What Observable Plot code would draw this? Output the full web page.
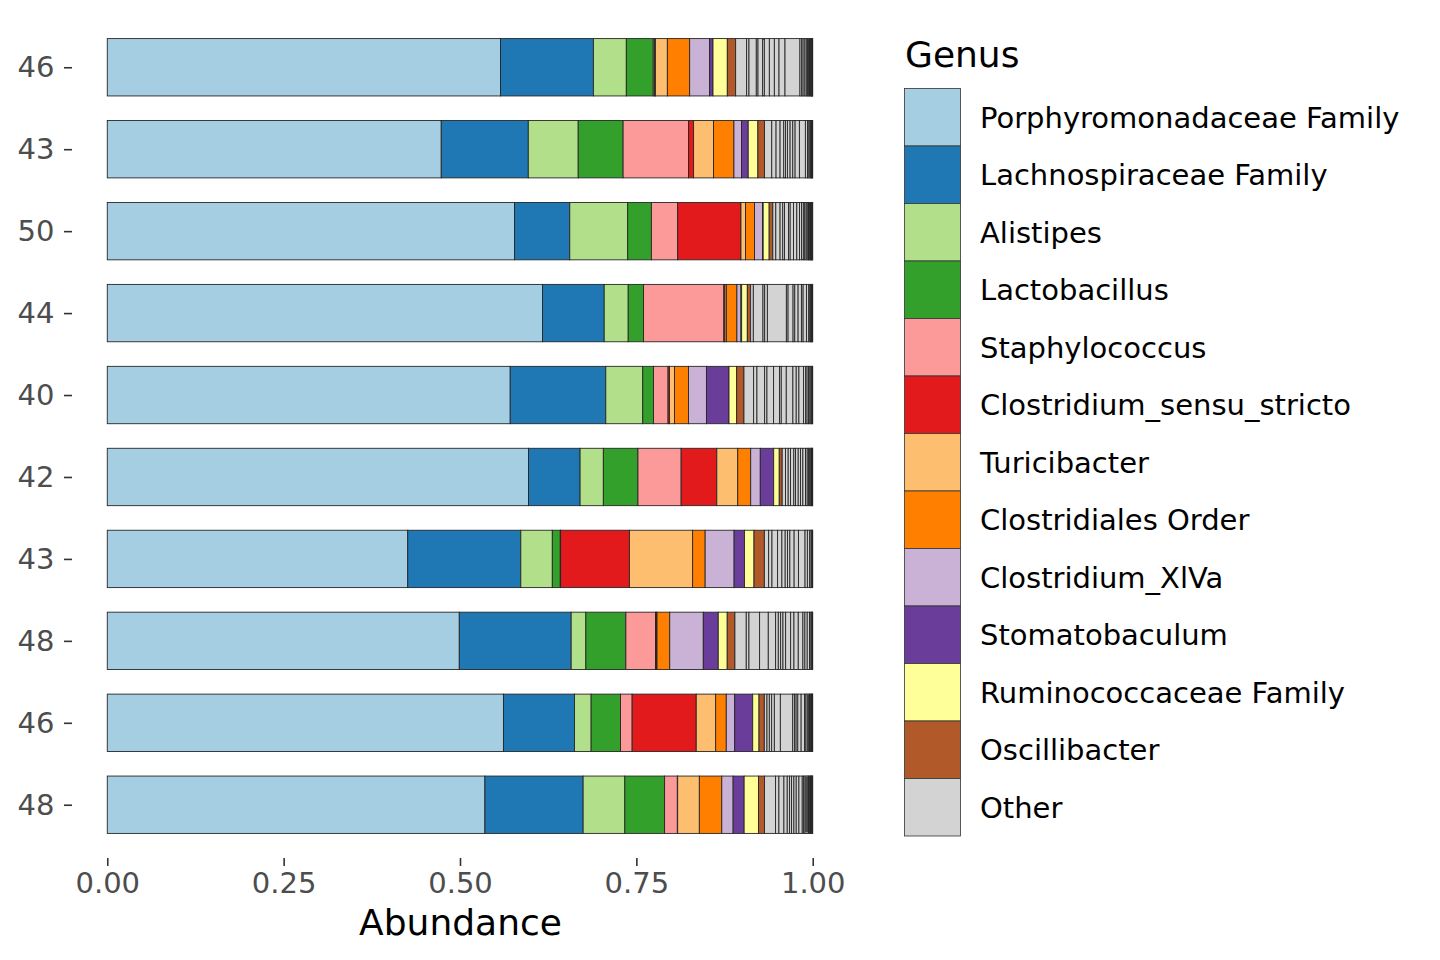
<!DOCTYPE html>
<html><head><meta charset="utf-8">
<script src="https://cdn.jsdelivr.net/npm/d3@7"></script>
<script src="https://cdn.jsdelivr.net/npm/@observablehq/plot@0.6"></script>
<style>
html,body{margin:0;padding:0;background:#fff;}
#wrap{position:relative;width:1440px;height:960px;font-family:"DejaVu Sans",sans-serif;background:#fff;overflow:hidden;}
#chart{position:absolute;left:0;top:0;}
#legend{position:absolute;left:880px;top:0;}
</style></head>
<body><div id="wrap"><div id="chart"></div><svg id="legend" width="560" height="960"></svg></div>
<script>
// ---- data (top bar first) ----
const samples = ["S1","S2","S3","S4","S5","S6","S7","S8","S9","S10"];
const ageLabels = ["46","43","50","44","40","42","43","48","46","48"];

const genera = ["Porphyromonadaceae Family","Lachnospiraceae Family","Alistipes","Lactobacillus",
  "Staphylococcus","Clostridium_sensu_stricto","Turicibacter","Clostridiales Order",
  "Clostridium_XlVa","Stomatobaculum","Ruminococcaceae Family","Oscillibacter"];
const otherLabel = "Other";
const genusColors = ["#A6CEE3","#1F78B4","#B2DF8A","#33A02C","#FB9A99","#E31A1C","#FDBF6F","#FF7F00",
  "#CAB2D6","#6A3D9A","#FFFF99","#B15928"];
const otherColor = "#D3D3D3";

const porphyromonadaceae = [0.5576,0.4738,0.5779,0.6161,0.5713,0.5977,0.4268,0.4990,0.5605,0.5336];
const lachnospiraceae    = [0.1317,0.1235,0.0783,0.0874,0.1355,0.0732,0.1606,0.1586,0.1006,0.1388];
const alistipes          = [0.0467,0.0708,0.0822,0.0340,0.0524,0.0330,0.0448,0.0208,0.0235,0.0589];
const lactobacillus      = [0.0382,0.0637,0.0336,0.0217,0.0152,0.0491,0.0113,0.0567,0.0416,0.0562];
const staphylococcus     = [0.0020,0.0929,0.0373,0.1137,0.0207,0.0613,0.0005,0.0420,0.0164,0.0180];
const clostridiumSS      = [0.0010,0.0071,0.0898,0.0015,0.0020,0.0506,0.0977,0.0012,0.0907,0.0005];
const turicibacter       = [0.0170,0.0283,0.0065,0.0020,0.0071,0.0297,0.0898,0.0010,0.0275,0.0306];
const clostridiales      = [0.0316,0.0289,0.0127,0.0150,0.0198,0.0184,0.0178,0.0180,0.0150,0.0317];
const clostridiumXlVa    = [0.0283,0.0108,0.0113,0.0057,0.0255,0.0136,0.0411,0.0476,0.0119,0.0160];
const stomatobaculum     = [0.0048,0.0095,0.0010,0.0010,0.0320,0.0190,0.0147,0.0212,0.0255,0.0156];
const ruminococcaceae    = [0.0203,0.0137,0.0085,0.0080,0.0109,0.0079,0.0136,0.0127,0.0089,0.0203];
const oscillibacter      = [0.0118,0.0093,0.0052,0.0047,0.0103,0.0042,0.0147,0.0109,0.0075,0.0085];

// many small "Other" taxa per sample
const other1  = [0.0156,0.0033,0.0104,0.0024,0.0066,0.0024,0.0071,0.0071,0.0066,0.0085,0.0212,0.0025,0.002,0.0025,0.002,0.0018,0.0015,0.0012,0.001,0.001,0.0008,0.0006,0.0005,0.0004,0.0003];
const other2  = [0.0104,0.0061,0.0057,0.0052,0.0024,0.0028,0.0038,0.0038,0.0033,0.0061,0.0085,0.003,0.002,0.0015,0.0012,0.001,0.0008,0.0005,0.0004];
const other3  = [0.0042,0.0061,0.0038,0.0024,0.0057,0.0024,0.0047,0.0047,0.0038,0.003,0.0025,0.002,0.002,0.0015,0.0015,0.001,0.001,0.001,0.001,0.0008,0.0006,0.0005,0.0004];
const other4  = [0.0038,0.0137,0.0024,0.0038,0.0269,0.0024,0.0071,0.0024,0.0047,0.0047,0.0024,0.0047,0.0033,0.0015,0.0012,0.001,0.0008,0.0006,0.0005];
const other5  = [0.0137,0.0047,0.0109,0.0033,0.0094,0.0085,0.0024,0.0071,0.0094,0.0047,0.0038,0.0066,0.003,0.002,0.002,0.002,0.0015,0.001,0.001,0.0005];
const other6  = [0.0047,0.0038,0.0033,0.0047,0.0024,0.0038,0.0033,0.0033,0.0038,0.0024,0.002,0.0015,0.0015,0.001,0.0008,0.0006,0.0004];
const other7  = [0.0061,0.0047,0.008,0.0061,0.0047,0.0033,0.0033,0.0061,0.0061,0.0094,0.0033,0.0033,0.002,0.001,0.0008,0.0005];
const other8  = [0.0161,0.0038,0.0151,0.0123,0.0104,0.0038,0.0033,0.0033,0.0038,0.0071,0.0047,0.0061,0.0066,0.0028,0.0033,0.0033,0.002,0.001,0.001,0.0005];
const other9  = [0.0038,0.0033,0.0033,0.0038,0.0085,0.0175,0.0024,0.0024,0.0024,0.0047,0.0047,0.002,0.002,0.0015,0.0015,0.001,0.001,0.001,0.0008,0.0005,0.0004];
const other10 = [0.0156,0.0047,0.0071,0.0047,0.0033,0.0028,0.0033,0.0033,0.0038,0.0047,0.002,0.002,0.0015,0.0015,0.0015,0.001,0.001,0.001,0.001,0.0008,0.0006,0.0005,0.0004];

const xTicks = [0, 0.25, 0.5, 0.75, 1];

// ---- build table ----
const genusSeries = [porphyromonadaceae,lachnospiraceae,alistipes,lactobacillus,staphylococcus,clostridiumSS,
  turicibacter,clostridiales,clostridiumXlVa,stomatobaculum,ruminococcaceae,oscillibacter];
const otherSeries = [other1,other2,other3,other4,other5,other6,other7,other8,other9,other10];
const rows = [];
samples.forEach((s, i) => {
  genera.forEach((g, j) => rows.push({sample: s, genus: g, value: genusSeries[j][i]}));
  otherSeries[i].forEach(v => rows.push({sample: s, genus: otherLabel, value: v}));
});
const labelOf = new Map(samples.map((s, i) => [s, ageLabels[i]]));

const chart = Plot.plot({
  width: 880, height: 960,
  marginLeft: 72, marginRight: 32, marginTop: 14, marginBottom: 102,
  style: {fontFamily: "DejaVu Sans", fontSize: "29px", background: "white", color: "#4d4d4d"},
  x: {domain: [-0.05, 1.05]},
  y: {domain: samples, padding: 0.3, round: false},
  color: {domain: [...genera, otherLabel], range: [...genusColors, otherColor]},
  marks: [
    Plot.barX(rows, Plot.stackX({x: "value", y: "sample", fill: "genus", offset: "normalize",
      stroke: "#262626", strokeWidth: 0.9})),
    Plot.axisY({tickSize: 8, tickPadding: 10, tickFormat: d => labelOf.get(d), label: null,
      fill: "#4d4d4d", stroke: "#333333", strokeWidth: 1.6, fontSize: 29}),
    Plot.axisX({ticks: xTicks, tickSize: 8, tickPadding: 6, tickFormat: d3.format(".2f"), label: null,
      fill: "#4d4d4d", stroke: "#333333", strokeWidth: 1.6, fontSize: 29}),
    Plot.text(["Abundance"], {frameAnchor: "bottom", dy: 65, text: d => d, fontSize: 36, fill: "black", lineAnchor: "middle"})
  ]
});
document.getElementById("chart").appendChild(chart);

// ---- legend ----
const lg = d3.select("#legend");
lg.append("text").attr("x", 25).attr("y", 67).attr("font-family", "DejaVu Sans").attr("font-size", 36)
  .attr("fill", "black").text("Genus");
const legendItems = [...genera, otherLabel];
const legendColors = [...genusColors, otherColor];
const keyTop = 88.5, keyH = 57.5;
legendItems.forEach((g, i) => {
  lg.append("rect").attr("x", 24.5).attr("y", keyTop + i * keyH).attr("width", 56).attr("height", keyH)
    .attr("fill", legendColors[i]).attr("stroke", "#333333").attr("stroke-width", 0.8);
  lg.append("text").attr("x", 100).attr("y", keyTop + i * keyH + keyH / 2).attr("dy", "0.36em")
    .attr("font-family", "DejaVu Sans").attr("font-size", 29).attr("fill", "black").text(g);
});
</script>
</body></html>
